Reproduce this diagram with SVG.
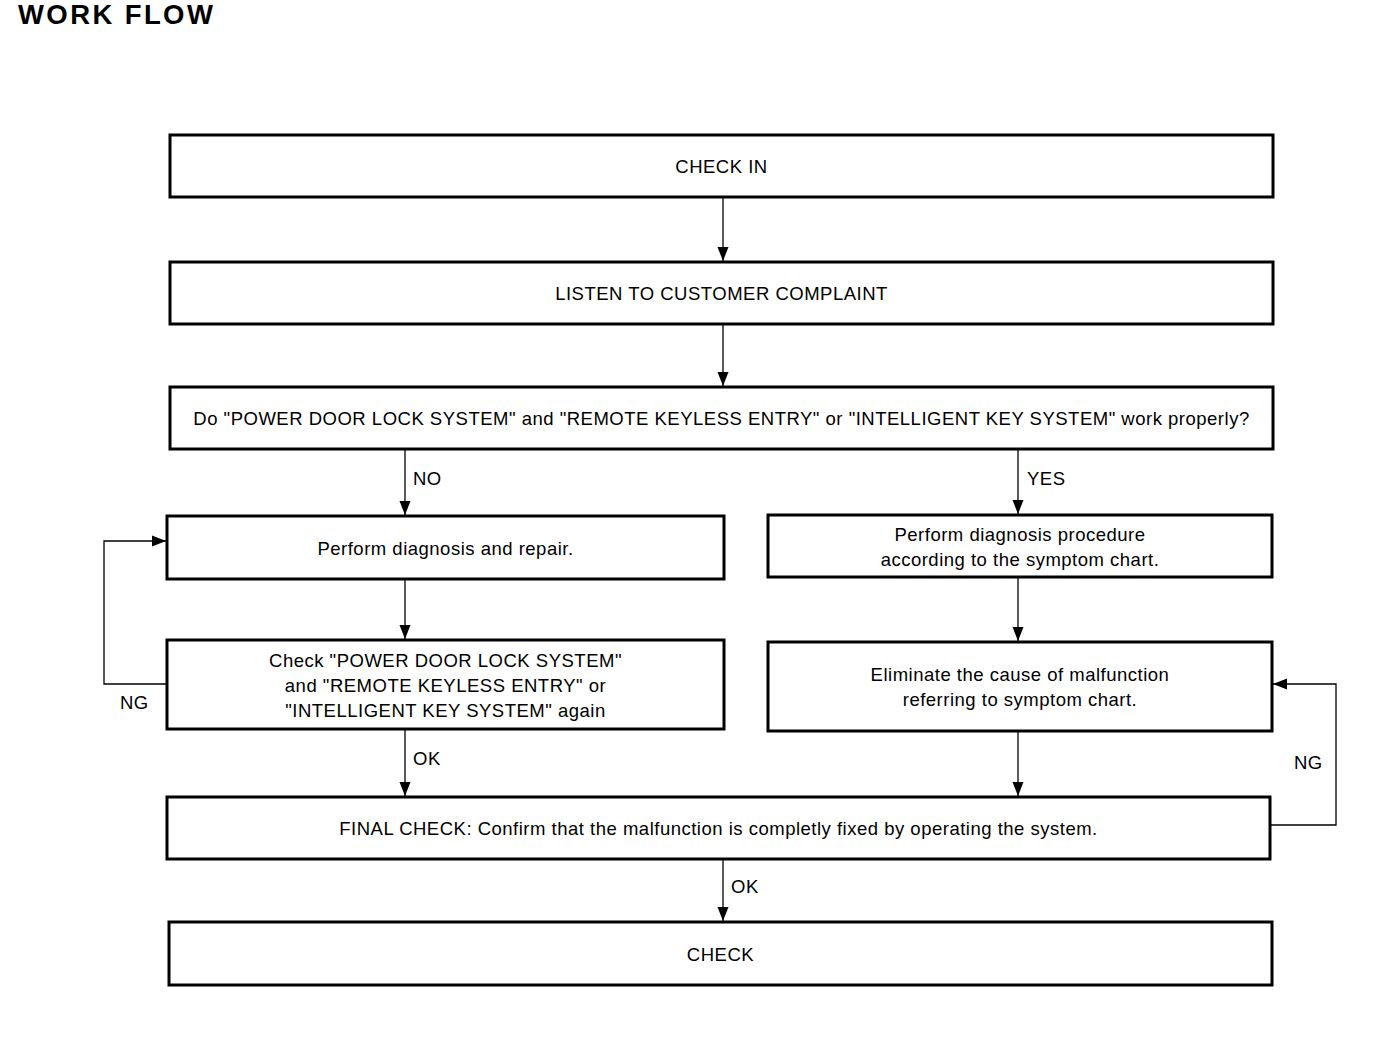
<svg xmlns="http://www.w3.org/2000/svg" width="1392" height="1050" viewBox="0 0 1392 1050">
<style>
.box{fill:#fff;stroke:#000;stroke-width:3}
.t{font-family:"Liberation Sans",Arial,sans-serif;font-size:18.5px;letter-spacing:0.5px;fill:#000;text-anchor:middle}
.l{font-family:"Liberation Sans",Arial,sans-serif;font-size:18.5px;letter-spacing:0.5px;fill:#000}
.c{fill:none;stroke:#000;stroke-width:1.3}
</style>
<defs>
<marker id="ah" markerWidth="14" markerHeight="14" refX="14" refY="7" orient="auto" markerUnits="userSpaceOnUse">
<path d="M0,1.5 L14,7 L0,12.5 Z" fill="#000"/>
</marker>
</defs>
<rect width="1392" height="1050" fill="#fff"/>
<text x="18" y="24" font-family="Liberation Sans,Arial,sans-serif" font-size="27.5" font-weight="bold" letter-spacing="2.4">WORK FLOW</text>
<g id="connectors">
<line class="c" x1="723" y1="197" x2="723" y2="261" marker-end="url(#ah)"/>
<line class="c" x1="723" y1="324" x2="723" y2="386" marker-end="url(#ah)"/>
<line class="c" x1="405" y1="449" x2="405" y2="515" marker-end="url(#ah)"/>
<line class="c" x1="1018" y1="449" x2="1018" y2="514" marker-end="url(#ah)"/>
<line class="c" x1="405" y1="579" x2="405" y2="639" marker-end="url(#ah)"/>
<line class="c" x1="1018" y1="577" x2="1018" y2="641" marker-end="url(#ah)"/>
<line class="c" x1="405" y1="729" x2="405" y2="796" marker-end="url(#ah)"/>
<line class="c" x1="1018" y1="731" x2="1018" y2="796" marker-end="url(#ah)"/>
<line class="c" x1="723" y1="859" x2="723" y2="921" marker-end="url(#ah)"/>
<polyline class="c" points="167,684 104,684 104,541 166,541" marker-end="url(#ah)"/>
<polyline class="c" points="1270,825 1336,825 1336,684 1273,684" marker-end="url(#ah)"/>
<text class="l" x="413" y="485">NO</text>
<text class="l" x="1027" y="485">YES</text>
<text class="l" x="413" y="765">OK</text>
<text class="l" x="731" y="893">OK</text>
<text class="l" x="120" y="709">NG</text>
<text class="l" x="1294" y="769">NG</text>
</g>
<g id="n1"><rect class="box" x="170" y="135" width="1103" height="62"/><text class="t" x="721.5" y="173">CHECK IN</text></g>
<g id="n2"><rect class="box" x="170" y="262" width="1103" height="62"/><text class="t" x="721.5" y="300">LISTEN TO CUSTOMER COMPLAINT</text></g>
<g id="n3"><rect class="box" x="170" y="387" width="1103" height="62"/><text class="t" x="721.5" y="425">Do "POWER DOOR LOCK SYSTEM" and "REMOTE KEYLESS ENTRY" or "INTELLIGENT KEY SYSTEM" work properly?</text></g>
<g id="n4"><rect class="box" x="167" y="516" width="557" height="63"/><text class="t" x="445.5" y="555">Perform diagnosis and repair.</text></g>
<g id="n5"><rect class="box" x="768" y="515" width="504" height="62"/><text class="t" x="1020" y="541">Perform diagnosis procedure</text><text class="t" x="1020" y="566">according to the symptom chart.</text></g>
<g id="n6"><rect class="box" x="167" y="640" width="557" height="89"/><text class="t" x="445.5" y="667">Check "POWER DOOR LOCK SYSTEM"</text><text class="t" x="445.5" y="692">and "REMOTE KEYLESS ENTRY" or</text><text class="t" x="445.5" y="717">"INTELLIGENT KEY SYSTEM" again</text></g>
<g id="n7"><rect class="box" x="768" y="642" width="504" height="89"/><text class="t" x="1020" y="681">Eliminate the cause of malfunction</text><text class="t" x="1020" y="706">referring to symptom chart.</text></g>
<g id="n8"><rect class="box" x="167" y="797" width="1103" height="62"/><text class="t" x="718.5" y="835">FINAL CHECK: Confirm that the malfunction is completly fixed by operating the system.</text></g>
<g id="n9"><rect class="box" x="169" y="922" width="1103" height="63"/><text class="t" x="720.5" y="961">CHECK</text></g>
</svg>
